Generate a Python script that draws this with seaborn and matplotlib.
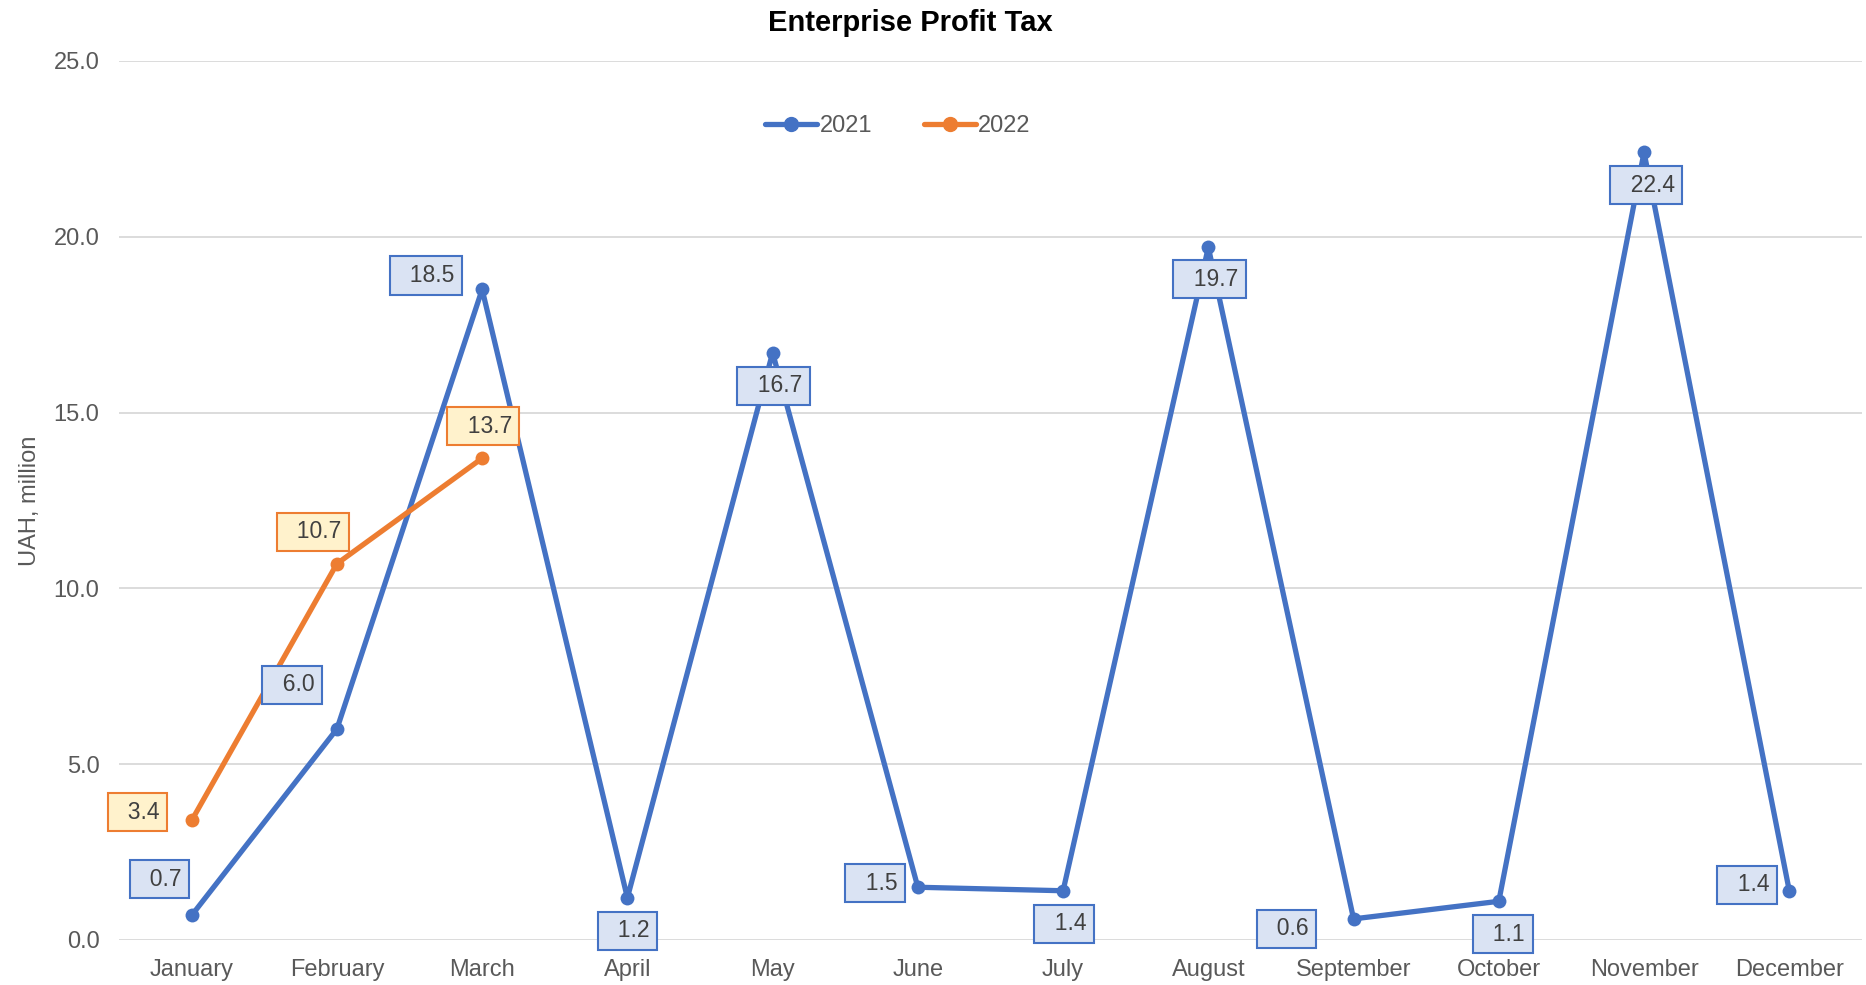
import pandas as pd
import numpy as np
import matplotlib.pyplot as plt
import seaborn as sns
from matplotlib.lines import Line2D

# values
months = ['January', 'February', 'March', 'April', 'May', 'June', 'July',
          'August', 'September', 'October', 'November', 'December']
tax_2021 = [0.7, 6.0, 18.5, 1.2, 16.7, 1.5, 1.4, 19.7, 0.6, 1.1, 22.4, 1.4]
tax_2022 = [3.4, 10.7, 13.7]
y_ticks = [0, 5, 10, 15, 20, 25]

# label offsets (pixels) so the boxes sit like in the original
off_2021 = [(-32, 36), (-45, 44), (-56, 14), (0, -33), (1, -33), (-43, 4),
            (1, -33), (1, -32), (-67, -10), (4, -33), (2, -33), (-42, 6)]
off_2022 = [(-54, 8), (-24, 32), (1, 32)]

df = pd.concat([
    pd.DataFrame({'Month': months, 'Tax': tax_2021, 'Year': '2021'}),
    pd.DataFrame({'Month': months[:len(tax_2022)], 'Tax': tax_2022, 'Year': '2022'}),
])

blue = '#4472C4'
orange = '#ED7D31'
grey = '#595959'

sns.set_style('white')
plt.rcParams['font.family'] = ['Liberation Sans', 'DejaVu Sans']

fig = plt.figure(figsize=(18.66, 9.85), dpi=100)
ax = fig.add_axes([0.0638, 0.0457, 0.934, 0.8925])

sns.lineplot(data=df, x='Month', y='Tax', hue='Year', palette=[blue, orange],
             marker='o', markersize=10, markeredgewidth=0, linewidth=3.8,
             sort=False, legend=False, ax=ax)

ax.set_xlim(-0.5, 11.5)
ax.set_ylim(0, 25)
ax.set_yticks(y_ticks)
ax.set_yticklabels([f'{v:.1f}' for v in y_ticks])
ax.grid(axis='y', color='#D9D9D9', linewidth=1.3)
ax.set_axisbelow(True)
for s in ax.spines.values():
    s.set_visible(False)
ax.tick_params(axis='both', length=0, labelsize=17, labelcolor=grey)
ax.tick_params(axis='y', pad=14)
ax.tick_params(axis='x', pad=14)
ax.set_xlabel('')
ax.set_ylabel('UAH, million', fontsize=17, color=grey)
ax.yaxis.set_label_coords(-0.045, 0.5)

def add_labels(vals, offs, edge, face):
    for i, (v, o) in enumerate(zip(vals, offs)):
        ax.annotate(f'  {v:.1f}', xy=(i, v), xytext=o, textcoords='offset pixels',
                    ha='center', va='center', fontsize=16.5, color='#404040',
                    zorder=5,
                    bbox=dict(boxstyle='square,pad=0.33', fc=face, ec=edge, lw=1.5))

add_labels(tax_2021, off_2021, blue, '#DAE3F3')
add_labels(tax_2022, off_2022, orange, '#FFF2CC')

handles = [Line2D([0], [0], color=blue, lw=3.8, marker='o', markersize=10, label='2021'),
           Line2D([0], [0], color=orange, lw=3.8, marker='o', markersize=10, label='2022')]
leg = fig.legend(handles=handles, loc='center', bbox_to_anchor=(898 / 1866, 1 - 126 / 985),
                 ncol=2, frameon=False, fontsize=17, handlelength=2.2,
                 handletextpad=0.1, columnspacing=2.2)
for t in leg.get_texts():
    t.set_color(grey)

fig.text(910 / 1866, 1 - 23 / 985, 'Enterprise Profit Tax', ha='center', va='center',
         fontsize=21, fontweight='bold', color='black')

plt.savefig('out.png', dpi=100)
